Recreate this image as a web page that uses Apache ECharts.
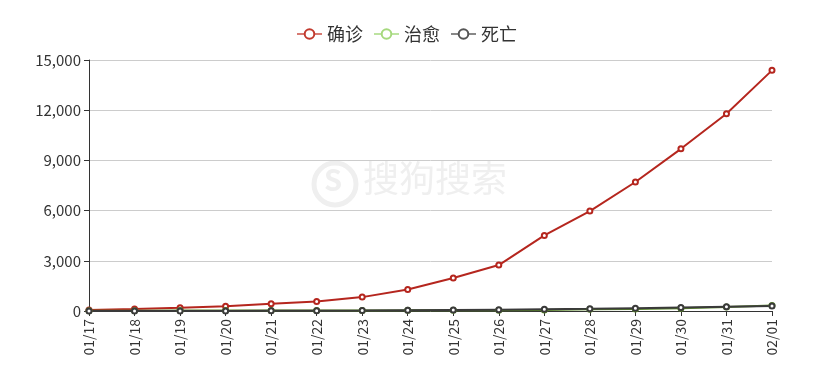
<!DOCTYPE html>
<html><head><meta charset="utf-8">
<script src="https://cdn.jsdelivr.net/npm/echarts@6/dist/echarts.min.js"></script>
<style>html,body{margin:0;padding:0;background:#fff}#c{width:813px;height:367px}</style>
</head><body><div id="c"></div>
<script>
var dates = ['01/17','01/18','01/19','01/20','01/21','01/22','01/23','01/24','01/25','01/26','01/27','01/28','01/29','01/30','01/31','02/01'];
var confirmed = [62,121,198,291,440,571,830,1287,1975,2744,4515,5974,7711,9692,11791,14380];
var cured = [19,21,24,25,28,28,34,38,49,51,60,103,124,171,243,328];
var deaths = [2,3,4,6,9,17,25,41,56,80,106,132,170,213,259,304];
var yTicks = [0,3000,6000,9000,12000,15000];

var font = '"Noto Sans CJK SC","Noto Sans",sans-serif';
var chart = echarts.init(document.getElementById('c'));
function ser(name, data, color){
  return {name:name,type:'line',data:data,symbol:'emptyCircle',symbolSize:5,color:color,
    itemStyle:{color:color,borderWidth:1},
    lineStyle:{color:color,width:2},emphasis:{disabled:true}};
}
chart.setOption({
  animation:false,
  textStyle:{fontFamily:font},
  graphic:[
    {type:'circle',shape:{cx:335,cy:184,r:21},style:{fill:'none',stroke:'#efefef',lineWidth:5},z:0},
    {type:'text',left:324,top:165,style:{text:'S',font:'bold 29px '+font,fill:'#efefef'},z:0},
    {type:'text',left:363,top:160,style:{text:'搜狗搜索',font:'36px '+font,fill:'#efefef'},z:0}
  ],
  legend:{top:20,left:'center',itemWidth:25,itemHeight:12,itemGap:10,
    textStyle:{fontSize:18,color:'#333',fontFamily:font},
    data:[{name:'确诊',itemStyle:{color:'#c23a2e',borderWidth:1},lineStyle:{color:'#d77a72',width:2}},
          {name:'治愈',itemStyle:{color:'#a6d97e',borderWidth:1},lineStyle:{color:'#bde3a0',width:2}},
          {name:'死亡',itemStyle:{color:'#555',borderWidth:1},lineStyle:{color:'#888',width:2}}]},
  grid:{left:89,right:41,top:60,bottom:56,containLabel:false},
  xAxis:{type:'category',data:dates,boundaryGap:false,
    axisLine:{lineStyle:{color:'#333',width:1}},
    axisTick:{alignWithLabel:true,lineStyle:{color:'#333'},length:5},
    axisLabel:{rotate:90,fontSize:14,color:'#333',margin:8,interval:0,fontFamily:font}},
  yAxis:{type:'value',min:0,max:15000,interval:3000,
    axisLine:{show:true,lineStyle:{color:'#333'}},
    axisTick:{show:true,length:5,lineStyle:{color:'#333'}},
    splitLine:{lineStyle:{color:'#ccc'}},
    axisLabel:{fontSize:15,color:'#333',margin:8,fontFamily:font,
      formatter:function(v){return yTicks.indexOf(v)>=0?v.toLocaleString('en-US'):'';}}},
  series:[ser('确诊',confirmed,'#b5261e'), ser('治愈',cured,'#5c8a2a'), ser('死亡',deaths,'#3a3a3a')]
});
</script></body></html>
